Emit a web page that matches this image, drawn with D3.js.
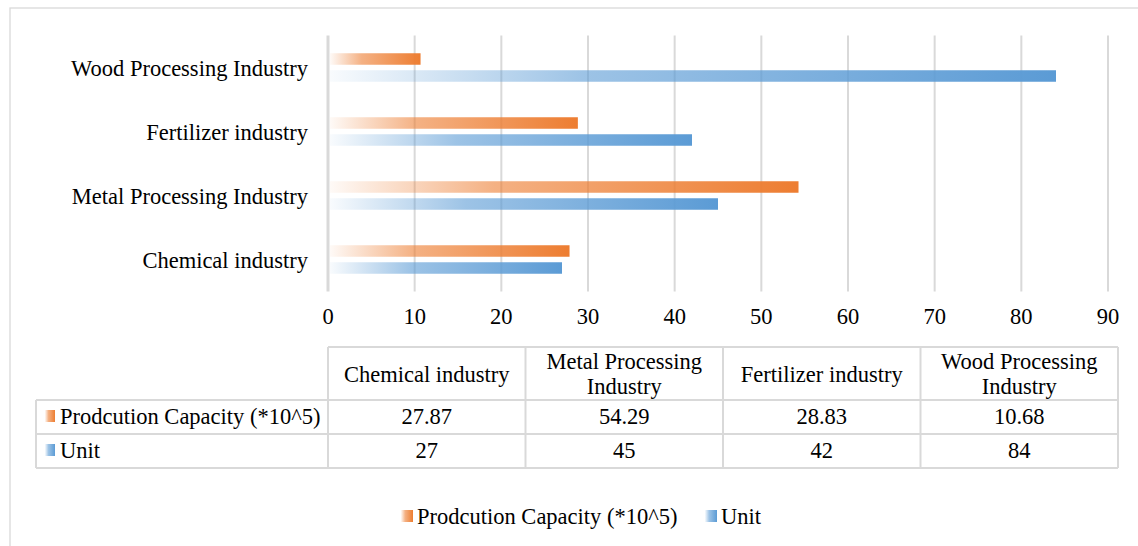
<!DOCTYPE html>
<html><head><meta charset="utf-8">
<script src="https://cdn.jsdelivr.net/npm/d3@7"></script>
<style>html,body{margin:0;padding:0;background:#fff;}svg{display:block;}svg text{font-family:'Liberation Serif','Times New Roman',serif;}</style>
</head><body><svg id="c" width="1138" height="546"></svg>
<script>
const categories = ["Chemical industry","Metal Processing Industry","Fertilizer industry","Wood Processing Industry"];
const capacity = [27.87, 54.29, 28.83, 10.68];
const capacityLabels = ["27.87","54.29","28.83","10.68"];
const units = [27, 45, 42, 84];
const seriesNames = ["Prodcution Capacity (*10^5)","Unit"];
const xTicks = [0,10,20,30,40,50,60,70,80,90];
const colors = ["#ED7D31","#5B9BD5"];
const FS = 22.5;

const svg = d3.select("#c");
const defs = svg.append("defs");
colors.forEach((c,i)=>{
  const g = defs.append("linearGradient").attr("id","g"+i).attr("x1","0").attr("x2","1").attr("y1","0").attr("y2","0");
  g.append("stop").attr("offset","0").attr("stop-color",c).attr("stop-opacity",0.04);
  g.append("stop").attr("offset","0.35").attr("stop-color",c).attr("stop-opacity",0.6);
  g.append("stop").attr("offset","1").attr("stop-color",c).attr("stop-opacity",1);
});

svg.append("rect").attr("x",10).attr("y",8).attr("width",1140).attr("height",560)
  .attr("fill","none").attr("stroke","#d9d9d9").attr("stroke-width",1.3);

const x = d3.scaleLinear().domain([0,90]).range([328,1108]);
const yTop = 35.5, yBot = 291.5;
const order = categories.slice().reverse();
const y = d3.scaleBand().domain(order).range([yTop,yBot]);

svg.append("g").selectAll("line").data(xTicks.slice(1)).join("line")
  .attr("x1",d=>x(d)).attr("x2",d=>x(d)).attr("y1",yTop).attr("y2",yBot)
  .attr("stroke","#d9d9d9").attr("stroke-width",2);
svg.append("line").attr("x1",x(0)).attr("x2",x(0)).attr("y1",yTop).attr("y2",yBot)
  .attr("stroke","#d9d9d9").attr("stroke-width",3);

const bh = 11.5, gap = 5.5;
categories.forEach((c,i)=>{
  const cy = y(c) + y.bandwidth()/2;
  svg.append("rect").attr("x",x(0)+2).attr("y",cy-gap/2-bh).attr("height",bh)
    .attr("width",x(capacity[i])-x(0)-2).attr("fill","url(#g0)");
  svg.append("rect").attr("x",x(0)+2).attr("y",cy+gap/2).attr("height",bh)
    .attr("width",x(units[i])-x(0)-2).attr("fill","url(#g1)");
});

svg.append("g").selectAll("text").data(categories).join("text")
  .attr("x",308).attr("y",d=>y(d)+y.bandwidth()/2+8).attr("text-anchor","end")
  .attr("font-size",FS).attr("fill","#000").text(d=>d);

svg.append("g").selectAll("text").data(xTicks).join("text")
  .attr("x",d=>x(d)).attr("y",324).attr("text-anchor","middle")
  .attr("font-size",FS).attr("fill","#000").text(d=>d);

const tL = 36, tC = 328, tR = 1118;
const colW = (tR - tC)/4;
const rows = [347, 400, 434, 468];
const tg = svg.append("g").attr("stroke","#d9d9d9").attr("stroke-width",2).attr("fill","none");
tg.append("line").attr("x1",tC).attr("x2",tR).attr("y1",rows[0]).attr("y2",rows[0]);
[1,2,3].forEach(r=>tg.append("line").attr("x1",tL).attr("x2",tR).attr("y1",rows[r]).attr("y2",rows[r]));
tg.append("line").attr("x1",tL).attr("x2",tL).attr("y1",rows[1]).attr("y2",rows[3]);
d3.range(5).forEach(k=>tg.append("line").attr("x1",tC+k*colW).attr("x2",tC+k*colW).attr("y1",rows[0]).attr("y2",rows[3]));

const headerLines = categories.map(c=>{
  if (c==="Metal Processing Industry") return ["Metal Processing","Industry"];
  if (c==="Wood Processing Industry") return ["Wood Processing","Industry"];
  return [c];
});
headerLines.forEach((ls,i)=>{
  const cx = tC + colW*(i+0.5);
  const t = svg.append("text").attr("text-anchor","middle").attr("font-size",FS).attr("fill","#000");
  if (ls.length===1) {
    t.append("tspan").attr("x",cx).attr("y",382).text(ls[0]);
  } else {
    t.append("tspan").attr("x",cx).attr("y",369).text(ls[0]);
    t.append("tspan").attr("x",cx).attr("y",394).text(ls[1]);
  }
});
const rowVals = [capacityLabels, units.map(String)];
const rowBase = [424, 458];
rowVals.forEach((vals,r)=>{
  vals.forEach((v,i)=>{
    svg.append("text").attr("x",tC+colW*(i+0.5)).attr("y",rowBase[r]).attr("text-anchor","middle")
      .attr("font-size",FS).attr("fill","#000").text(v);
  });
  svg.append("rect").attr("x",45).attr("y",rowBase[r]-14).attr("width",10).attr("height",12).attr("fill","url(#g"+r+")");
  svg.append("text").attr("x",60).attr("y",rowBase[r]).attr("font-size",FS).attr("fill","#000").text(seriesNames[r]);
});

const legX = [401, 705];
seriesNames.forEach((n,i)=>{
  svg.append("rect").attr("x",legX[i]).attr("y",510).attr("width",12).attr("height",12).attr("fill","url(#g"+i+")");
  svg.append("text").attr("x",legX[i]+16).attr("y",524).attr("font-size",FS).attr("fill","#000").text(n);
});
</script></body></html>
